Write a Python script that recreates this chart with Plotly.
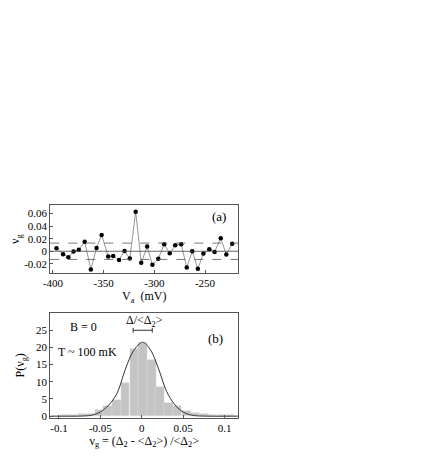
import plotly.graph_objects as go
from plotly.subplots import make_subplots

# panel (a): level-spacing fluctuations vs gate voltage
vg_mv = [-396.5, -390, -384.8, -379.7, -374.5, -368.7, -362.6, -357, -352, -345.5,
         -340.6, -334.8, -329.4, -324.2, -318.4, -312.9, -307.1, -301.9, -296.1, -290.3,
         -284.8, -279.4, -273.5, -268, -262.6, -257.1, -251.6, -245.8, -240.6, -234.5,
         -229, -223.2]
nu_g = [0.0047, -0.0047, -0.0095, -0.0005, 0.0026, 0.0153, -0.029, 0.0053, 0.026, -0.0084,
        -0.0074, -0.0137, 0.0005, -0.0116, 0.063, -0.0184, 0.0074, -0.0216, -0.0121, 0.011,
        -0.0032, 0.0095, 0.011, -0.0258, 0.0, -0.0279, -0.0037, 0.0032, -0.001, 0.0205,
        -0.0053, 0.0121]
band = 0.013

# panel (b): histogram of nu_g
bin_centers = [-0.093, -0.083, -0.072, -0.062, -0.051, -0.041, -0.030, -0.020, -0.009, 0.001,
               0.012, 0.022, 0.033, 0.043, 0.054, 0.064, 0.075, 0.085, 0.096, 0.106]
bin_heights = [0.2, 0.4, 0.6, 0.7, 1.7, 2.9, 4.7, 9.6, 19.5, 21.3,
               16.3, 8.4, 3.8, 2.9, 1.4, 1.0, 0.7, 0.4, 0.3, 0.2]
bin_width = 0.0105

# gaussian curve
curve_x = [-0.11, -0.07, -0.06, -0.05, -0.04, -0.03, -0.02, -0.01, 0.001,
           0.01, 0.02, 0.03, 0.04, 0.05, 0.06, 0.07, 0.117]
curve_y = [0.0, 0.05, 0.3, 1.2, 3.2, 6.6, 13.5, 19.0, 21.5,
           19.5, 14.0, 7.2, 3.3, 1.2, 0.3, 0.05, 0.0]

# Delta/<Delta_2> scale bar
delta_bar = [-0.0104, 0.0127]
delta_y = 25

FONT = "Liberation Serif"
tick_font = dict(family=FONT, size=11, color="black")
title_font = dict(family=FONT, size=12, color="black")

fig = make_subplots(rows=2, cols=1)

fig.add_trace(go.Scatter(
    x=vg_mv, y=nu_g, mode="lines+markers",
    line=dict(color="#7a7a7a", width=0.8),
    marker=dict(color="black", size=4.5),
    showlegend=False,
), row=1, col=1)

fig.add_trace(go.Bar(
    x=bin_centers, y=bin_heights, width=bin_width,
    marker=dict(color="#c4c4c4", line=dict(color="#d8d8d8", width=0.6)),
    showlegend=False,
), row=2, col=1)

fig.add_trace(go.Scatter(
    x=curve_x, y=curve_y, mode="lines", line_shape="spline",
    line=dict(color="#333333", width=1),
    showlegend=False,
), row=2, col=1)

fig.add_trace(go.Scatter(
    x=delta_bar, y=[delta_y, delta_y], mode="lines",
    line=dict(color="#333333", width=1),
    showlegend=False,
), row=2, col=1)
for xb in delta_bar:
    fig.add_shape(type="line", x0=xb, x1=xb, y0=delta_y - 0.7, y1=delta_y + 0.7,
                  line=dict(color="#333333", width=1), xref="x2", yref="y2")

# reference lines in panel (a)
fig.add_hline(y=0, line=dict(color="#444444", width=0.8), row=1, col=1)
for yb in (band, -band):
    fig.add_hline(y=yb, line=dict(color="#555555", width=0.8, dash="dash"), row=1, col=1)

common = dict(
    showline=True, linecolor="#555555", linewidth=1, mirror=True,
    showgrid=False, zeroline=False,
    ticks="inside", ticklen=3, tickcolor="#555555",
)

fig.update_layout(
    xaxis=dict(common, domain=[0.078, 0.518], range=[-402.6, -217.3],
               tickvals=[-400, -350, -300, -250], tickfont=tick_font,
               ticktext=["-400", "-350", "-300", "-250"],
               title=dict(text="V<sub>a</sub>  (mV)", standoff=2, font=title_font)),
    yaxis=dict(common, domain=[0.4384, 0.582], range=[-0.0347, 0.0731],
               tickvals=[-0.02, 0, 0.02, 0.04, 0.06], tickfont=tick_font,
               ticktext=["-0.02", "0", "0.02", "0.04", "0.06"],
               title=dict(text="ν<sub>g</sub>", standoff=8, font=title_font)),
    xaxis2=dict(common, domain=[0.078, 0.518], range=[-0.1105, 0.1165],
                tickvals=[-0.1, -0.05, 0, 0.05, 0.1], tickfont=tick_font,
                ticktext=["-0.1", "-0.05", "0", "0.05", "0.1"],
                title=dict(text="ν<sub>g</sub> = (Δ<sub>2</sub> - <Δ<sub>2</sub>>) /<Δ<sub>2</sub>>",
                           standoff=2, font=title_font)),
    yaxis2=dict(common, domain=[0.1324, 0.3536], range=[-0.4, 30],
                tickvals=[0, 5, 10, 15, 20, 25], tickfont=tick_font,
                title=dict(text="P(ν<sub>g</sub>)", standoff=8, font=title_font)),
)

fig.add_annotation(x=-236, y=0.0547, xref="x", yref="y", text="(a)",
                   showarrow=False, font=dict(family=FONT, size=13, color="black"))
fig.add_annotation(x=0.089, y=22.6, xref="x2", yref="y2", text="(b)",
                   showarrow=False, font=dict(family=FONT, size=13, color="black"))
fig.add_annotation(x=-0.070, y=26, xref="x2", yref="y2", text="B = 0",
                   showarrow=False, font=title_font)
fig.add_annotation(x=-0.066, y=18.7, xref="x2", yref="y2", text="T ~ 100 mK",
                   showarrow=False, font=title_font)
fig.add_annotation(x=0.0036, y=27.6, xref="x2", yref="y2",
                   text="Δ/<Δ<sub>2</sub>>", showarrow=False, font=title_font)

fig.update_layout(
    width=436, height=476,
    margin=dict(l=0, r=0, t=0, b=0),
    paper_bgcolor="white", plot_bgcolor="white",
    bargap=0,
    font=dict(family=FONT, color="black"),
)

fig.write_html("out.html")
